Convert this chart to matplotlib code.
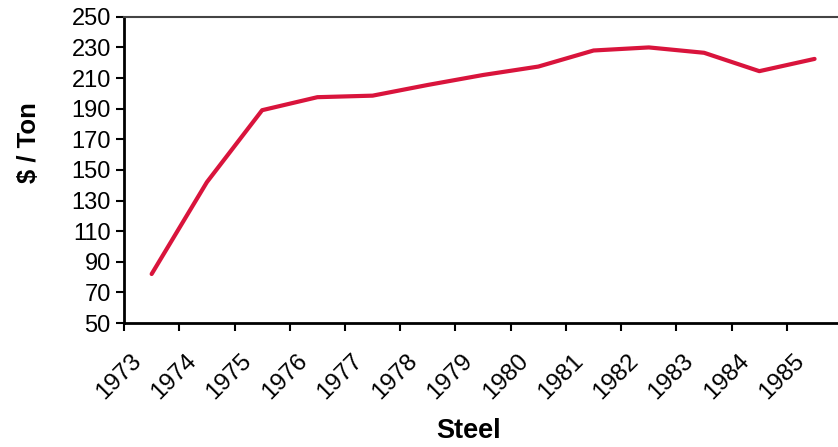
import matplotlib.pyplot as plt
import matplotlib.transforms as mtransforms
import numpy as np

plt.rcParams['font.family'] = ['Liberation Sans', 'DejaVu Sans']

years = ['1973', '1974', '1975', '1976', '1977', '1978', '1979',
         '1980', '1981', '1982', '1983', '1984', '1985']
price = [82, 142, 189, 197.5, 198.5, 205.5, 212,
         217.5, 228, 230, 226.5, 214.5, 222.5]

fig = plt.figure(figsize=(8.38, 4.47), dpi=100)
# plot area runs a little past the right edge of the figure
ax = fig.add_axes([0.148, 0.2774, 0.857, 0.685])

x = np.arange(len(years)) + 0.5
ax.plot(x, price, color='#D9143C', lw=3, solid_capstyle='round',
        solid_joinstyle='round')

ax.set_xlim(0, len(years))
ax.set_ylim(50, 250)
ax.set_yticks(range(50, 251, 20))
ax.set_xticks(range(len(years)))
ax.set_xticklabels(years, rotation=45, ha='right', va='center',
                   rotation_mode='anchor')

ax.tick_params(axis='both', labelsize=17, width=1.5, length=6, direction='out')
ax.tick_params(axis='x', labelsize=17.5, pad=19)

# nudge the slanted year labels to the right
shift = mtransforms.ScaledTranslation(10 / 72, 0, fig.dpi_scale_trans)
for lbl in ax.get_xticklabels():
    lbl.set_transform(lbl.get_transform() + shift)

for side in ['left', 'bottom']:
    ax.spines[side].set_linewidth(2)
ax.spines['top'].set_color('#444444')
ax.spines['top'].set_linewidth(1.5)
ax.spines['right'].set_visible(False)

ax.set_ylabel('$ / Ton', fontsize=18.5, fontweight='bold', va='center')
ax.yaxis.set_label_coords(-0.132, 0.59)
ax.set_xlabel('Steel', fontsize=19.5, fontweight='bold', va='center')
ax.xaxis.set_label_coords(0.480, -0.353)

fig.savefig('out.png', dpi=100)
